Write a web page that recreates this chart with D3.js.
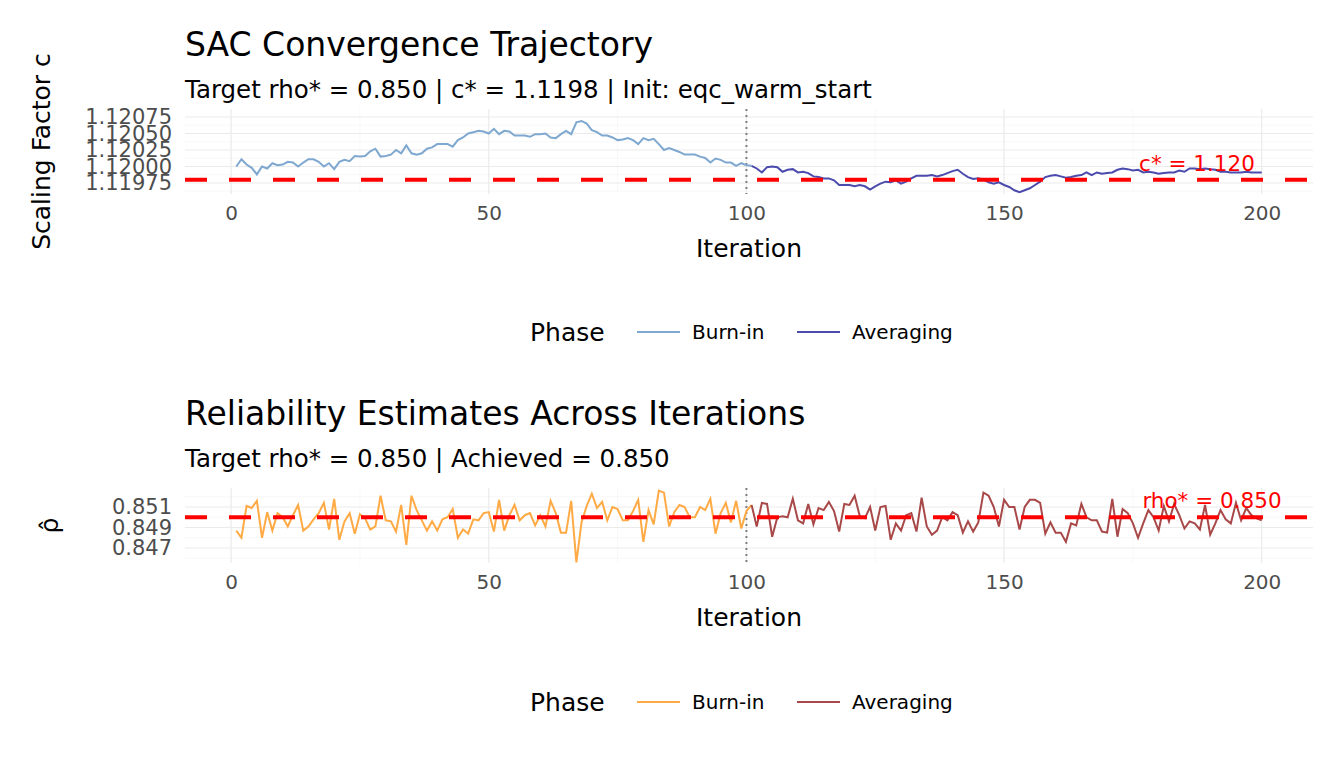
<!DOCTYPE html><html><head><meta charset="utf-8"><script src="https://d3js.org/d3.v7.min.js"></script>
<style>body{margin:0;background:#fff}text{font-family:"DejaVu Sans",sans-serif}</style></head><body>
<svg id="c" width="1344" height="768"></svg>
<script>
const cBurn=[1.12000,1.12011,1.12003,1.11998,1.11988,1.12000,1.11997,1.12005,1.12002,1.12003,1.12007,1.12006,1.12000,1.12006,1.12011,1.12011,1.12007,1.12000,1.12005,1.11996,1.12007,1.12010,1.12008,1.12016,1.12015,1.12016,1.12023,1.12027,1.12015,1.12016,1.12018,1.12025,1.12020,1.12032,1.12020,1.12018,1.12020,1.12027,1.12029,1.12034,1.12034,1.12034,1.12030,1.12040,1.12044,1.12050,1.12052,1.12054,1.12053,1.12050,1.12057,1.12049,1.12054,1.12053,1.12047,1.12047,1.12047,1.12045,1.12049,1.12049,1.12050,1.12044,1.12043,1.12049,1.12054,1.12049,1.12067,1.12069,1.12065,1.12055,1.12052,1.12047,1.12047,1.12044,1.12040,1.12041,1.12043,1.12040,1.12034,1.12043,1.12040,1.12042,1.12034,1.12025,1.12028,1.12025,1.12022,1.12018,1.12018,1.12018,1.12015,1.12013,1.12006,1.12012,1.12010,1.12006,1.12006,1.12001,1.12005,1.12002];
const cAvg=[1.12001,1.11997,1.11991,1.11999,1.12000,1.11999,1.11992,1.11995,1.11996,1.11991,1.11992,1.11990,1.11985,1.11984,1.11982,1.11982,1.11979,1.11972,1.11972,1.11972,1.11970,1.11972,1.11970,1.11965,1.11970,1.11974,1.11977,1.11976,1.11979,1.11974,1.11977,1.11982,1.11986,1.11986,1.11986,1.11987,1.11985,1.11987,1.11990,1.11993,1.11995,1.11989,1.11984,1.11981,1.11982,1.11980,1.11976,1.11974,1.11976,1.11972,1.11969,1.11964,1.11961,1.11964,1.11967,1.11972,1.11977,1.11984,1.11986,1.11987,1.11985,1.11983,1.11984,1.11986,1.11987,1.11991,1.11987,1.11991,1.11989,1.11990,1.11991,1.11995,1.11997,1.11996,1.11994,1.11995,1.11991,1.11992,1.11991,1.11989,1.11990,1.11991,1.11991,1.11994,1.11992,1.11997,1.11997,1.11996,1.11997,1.11996,1.11995,1.11992,1.11992,1.11991,1.11991,1.11991,1.11992,1.11991,1.11991,1.11991];
const rBurn=[0.8487,0.8480,0.8511,0.8509,0.8516,0.8480,0.8505,0.8487,0.8504,0.8500,0.8491,0.8502,0.8512,0.8487,0.8491,0.8498,0.8504,0.8514,0.8488,0.8518,0.8478,0.8496,0.8504,0.8484,0.8503,0.8499,0.8488,0.8491,0.8521,0.8497,0.8496,0.8486,0.8512,0.8473,0.8521,0.8507,0.8497,0.8487,0.8496,0.8487,0.8498,0.8500,0.8508,0.8480,0.8488,0.8484,0.8498,0.8497,0.8504,0.8505,0.8486,0.8517,0.8487,0.8502,0.8512,0.8497,0.8502,0.8504,0.8492,0.8502,0.8491,0.8516,0.8504,0.8485,0.8485,0.8516,0.8456,0.8495,0.8511,0.8523,0.8509,0.8515,0.8497,0.8510,0.8508,0.8497,0.8497,0.8506,0.8517,0.8476,0.8507,0.8493,0.8526,0.8524,0.8491,0.8505,0.8512,0.8510,0.8500,0.8500,0.8510,0.8507,0.8518,0.8484,0.8504,0.8514,0.8495,0.8516,0.8489,0.8506];
const rAvg=[0.8512,0.8491,0.8514,0.8513,0.8481,0.8500,0.8501,0.8500,0.8518,0.8497,0.8494,0.8513,0.8493,0.8509,0.8507,0.8515,0.8506,0.8486,0.8513,0.8512,0.8521,0.8501,0.8499,0.8510,0.8487,0.8510,0.8511,0.8478,0.8494,0.8487,0.8502,0.8504,0.8486,0.8519,0.8491,0.8483,0.8487,0.8500,0.8497,0.8505,0.8502,0.8485,0.8496,0.8486,0.8495,0.8524,0.8521,0.8510,0.8491,0.8517,0.8510,0.8510,0.8488,0.8510,0.8517,0.8517,0.8514,0.8484,0.8495,0.8485,0.8485,0.8476,0.8494,0.8492,0.8513,0.8500,0.8497,0.8497,0.8486,0.8485,0.8518,0.8481,0.8508,0.8504,0.8494,0.8480,0.8494,0.8507,0.8500,0.8487,0.8511,0.8496,0.8513,0.8502,0.8489,0.8496,0.8494,0.8488,0.8512,0.8483,0.8494,0.8507,0.8498,0.8494,0.8514,0.8497,0.8509,0.8502,0.8499,0.8497];
const xTicks=[0,50,100,150,200];
const cTicks=[1.11975,1.12,1.12025,1.1205,1.12075];
const rTicks=[0.847,0.849,0.851];
const cStar=1.1198, rhoStar=0.850;

const svg=d3.select("#c");
const x=d3.scaleLinear().domain([-8.95,209.95]).range([185,1313]);
function panel(o){
  const y=d3.scaleLinear().domain(o.ydom).range(o.yr);
  const g=svg.append("g");
  const [t,b]=[o.top,o.bot];
  const minorX=[25,75,125,175];
  minorX.forEach(v=>g.append("line").attr("x1",x(v)).attr("x2",x(v)).attr("y1",t).attr("y2",b).attr("stroke","#f3f3f3").attr("stroke-width",0.6));
  o.minorY.forEach(v=>{if(y(v)>=t&&y(v)<=b)g.append("line").attr("x1",185).attr("x2",1313).attr("y1",y(v)).attr("y2",y(v)).attr("stroke","#f3f3f3").attr("stroke-width",0.6)});
  xTicks.forEach(v=>g.append("line").attr("x1",x(v)).attr("x2",x(v)).attr("y1",t).attr("y2",b).attr("stroke","#ebebeb").attr("stroke-width",1.2));
  o.yt.forEach(v=>g.append("line").attr("x1",185).attr("x2",1313).attr("y1",y(v)).attr("y2",y(v)).attr("stroke","#ebebeb").attr("stroke-width",1.2));
  const ax=g.append("g").attr("transform",`translate(0,${b})`).call(d3.axisBottom(x).tickValues(xTicks).tickSize(0).tickPadding(12));
  ax.select(".domain").remove(); ax.selectAll("text").attr("font-size",20).attr("fill","#4d4d4d").style("font-family","DejaVu Sans");
  const ay=g.append("g").attr("transform","translate(182,0)").call(d3.axisLeft(y).tickValues(o.yt).tickFormat(o.fmt).tickSize(0).tickPadding(10));
  ay.select(".domain").remove(); ay.selectAll("text").attr("font-size",21).attr("fill","#4d4d4d").style("font-family","DejaVu Sans");
  g.append("line").attr("x1",x(100)).attr("x2",x(100)).attr("y1",t).attr("y2",b).attr("stroke","#808080").attr("stroke-width",2).attr("stroke-dasharray","2,4");
  const line=d3.line().x(d=>x(d[0])).y(d=>y(d[1]));
  const bd=o.burn.map((v,i)=>[i+1,v]); const ad=o.avg.map((v,i)=>[i+101,v]);
  g.append("path").datum(bd.concat([ad[0]])).attr("d",line).attr("fill","none").attr("stroke",o.c1).attr("stroke-width",2);
  g.append("path").datum(ad).attr("d",line).attr("fill","none").attr("stroke",o.c2).attr("stroke-width",2);
  g.append("line").attr("x1",185).attr("x2",1313).attr("y1",y(o.star)).attr("y2",y(o.star)).attr("stroke","#ff0000").attr("stroke-width",4).attr("stroke-dasharray","22,22");
  g.append("text").attr("x",o.annX).attr("y",y(o.star)-9).attr("text-anchor","middle").attr("fill","#ff0000").attr("font-size",21.5).text(o.ann);
  g.append("text").attr("x",185).attr("y",o.titleY).attr("font-size",33).attr("fill","#000").text(o.title);
  g.append("text").attr("x",185).attr("y",o.titleY+42).attr("font-size",24.5).attr("fill","#000").text(o.sub);
  g.append("text").attr("x",749).attr("y",b+63).attr("text-anchor","middle").attr("font-size",25).text("Iteration");
  g.append("text").attr("transform",`translate(${o.ytx},${(t+b)/2}) rotate(-90)`).attr("text-anchor","middle").attr("font-size",25).text(o.ytitle);
  const ly=o.legY;
  g.append("text").attr("x",530).attr("y",ly+9).attr("font-size",25).text("Phase");
  g.append("line").attr("x1",637).attr("x2",680).attr("y1",ly).attr("y2",ly).attr("stroke",o.c1).attr("stroke-width",2);
  g.append("text").attr("x",692).attr("y",ly+7).attr("font-size",20).text("Burn-in");
  g.append("line").attr("x1",797).attr("x2",840).attr("y1",ly).attr("y2",ly).attr("stroke",o.c2).attr("stroke-width",2);
  g.append("text").attr("x",852).attr("y",ly+7).attr("font-size",20).text("Averaging");
}
panel({ydom:[1.11975,1.12075],yr:[183,117],top:109,bot:194,yt:cTicks,minorY:[1.119625,1.119875,1.120125,1.120375,1.120625],
  fmt:d3.format(".5f"),burn:cBurn,avg:cAvg,c1:"#7fa8d0",c2:"#4b4bad",star:cStar,ann:"c* = 1.120",annX:1197,
  title:"SAC Convergence Trajectory",sub:"Target rho* = 0.850 | c* = 1.1198 | Init: eqc_warm_start",titleY:56,
  ytitle:"Scaling Factor c",ytx:50,legY:332});
panel({ydom:[0.847,0.851],yr:[548,507],top:488,bot:563,yt:rTicks,minorY:[0.846,0.848,0.850,0.852],
  fmt:d3.format(".3f"),burn:rBurn,avg:rAvg,c1:"#ffaa44",c2:"#a84848",star:rhoStar,ann:"rho* = 0.850",annX:1212,
  title:"Reliability Estimates Across Iterations",sub:"Target rho* = 0.850 | Achieved = 0.850",titleY:425,
  ytitle:"ρ̂",ytx:58,legY:702});
</script></body></html>
